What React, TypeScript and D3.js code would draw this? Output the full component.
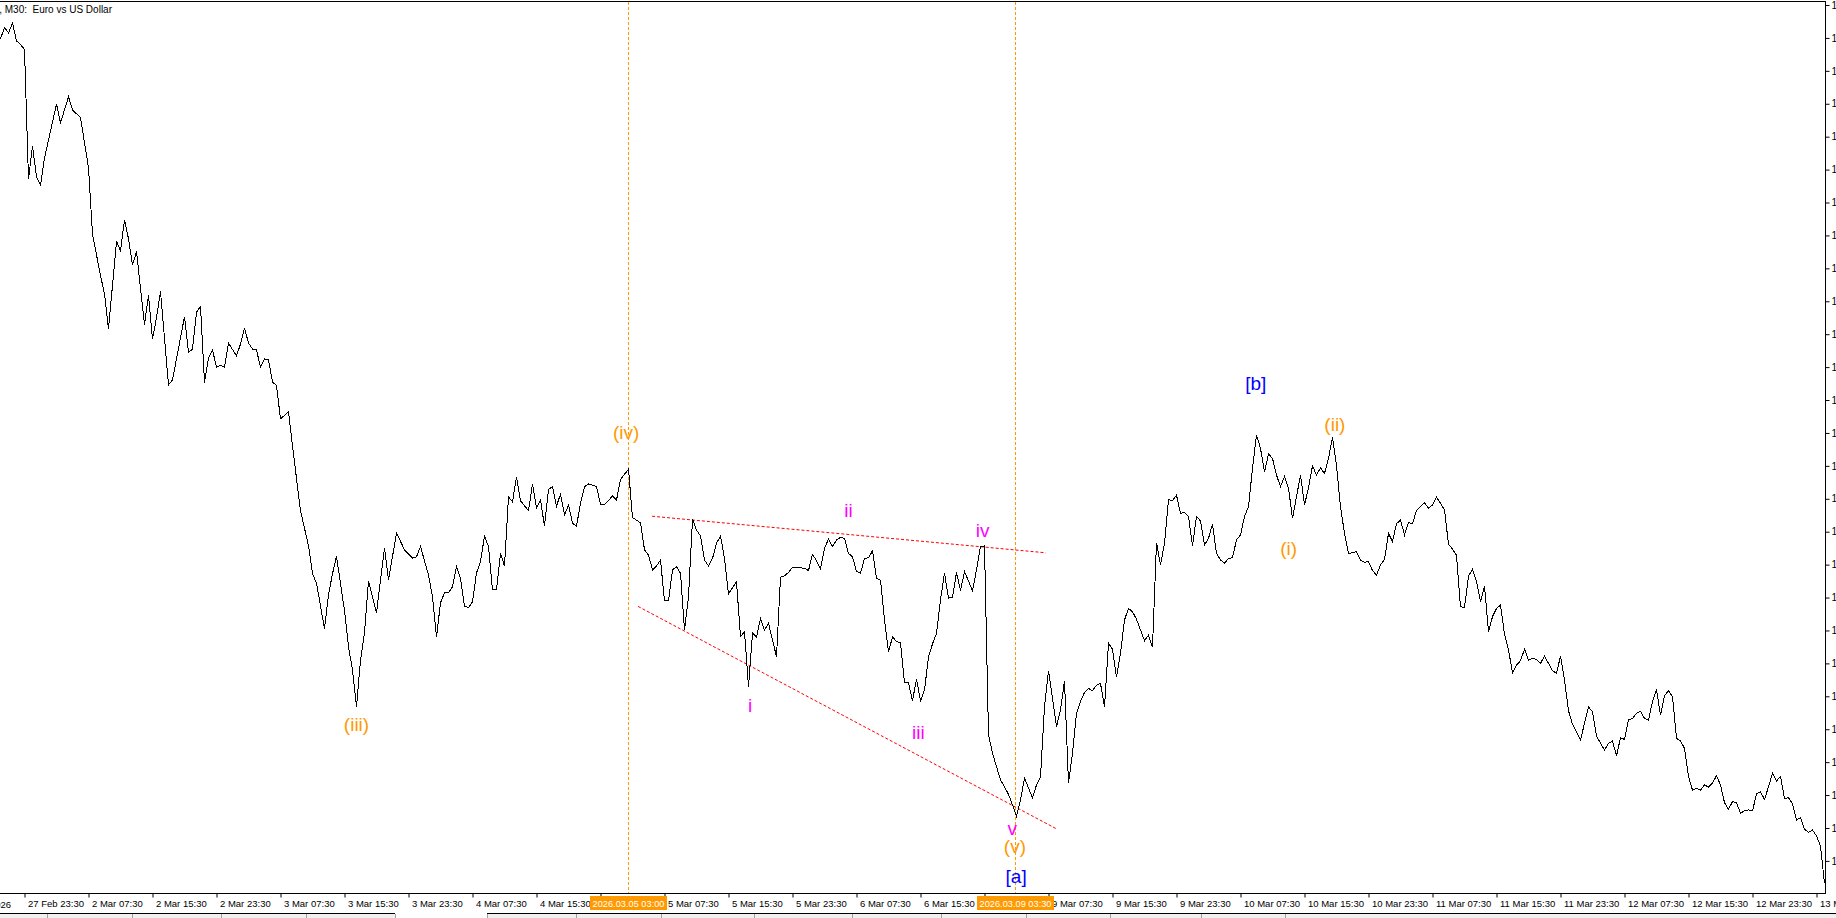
import React, { useEffect, useRef } from "react";
import * as d3 from "d3";

type Bar = [number, number];

const WIDTH = 1836;
const HEIGHT = 918;
const AXIS_X = 1825.5;
const AXIS_Y = 893.5;

// M30 closes, [bar number, price]; bar 0 = 27 Feb 23:30
const feb27: Bar[] = [[-6, 1.17897], [-5, 1.17932], [-4, 1.17915], [-3, 1.17945], [-2, 1.17891], [-1, 1.1788], [0, 1.17865]];
const mar02: Bar[] = [[1, 1.17471], [2, 1.17572], [3, 1.17478], [4, 1.17453], [5, 1.17535], [8, 1.17699], [9, 1.17642], [11, 1.17721], [12, 1.17681], [14, 1.17658], [16, 1.17506], [17, 1.17304], [19, 1.17178], [20, 1.17122], [21, 1.17016], [23, 1.17282], [24, 1.17254], [25, 1.17347], [26, 1.1729], [27, 1.1721], [28, 1.17251], [30, 1.17029], [31, 1.17119], [32, 1.16985], [33, 1.1705], [34, 1.1713], [36, 1.16846], [37, 1.16861], [40, 1.17053], [41, 1.16944], [42, 1.16955], [43, 1.17067], [44, 1.17084], [45, 1.16853], [46, 1.16928], [47, 1.16952], [48, 1.169]];
const mar03: Bar[] = [[49, 1.16906], [50, 1.169], [51, 1.16973], [53, 1.16934], [54, 1.1697], [55, 1.17019], [56, 1.16973], [57, 1.16955], [58, 1.16952], [59, 1.169], [60, 1.16925], [61, 1.16922], [62, 1.16855], [63, 1.16844], [64, 1.16743], [65, 1.16753], [66, 1.16764], [67, 1.1666], [69, 1.16464], [71, 1.16357], [72, 1.16272], [73, 1.16244], [75, 1.16105], [76, 1.16209], [77, 1.16272], [78, 1.16325], [80, 1.1616], [81, 1.1605], [82, 1.1598], [83, 1.15868], [84, 1.1601], [85, 1.16092], [86, 1.16251], [88, 1.16154], [90, 1.16351], [91, 1.16253], [93, 1.16396], [95, 1.16345]];
const mar04: Bar[] = [[97, 1.1632], [98, 1.16324], [99, 1.16355], [101, 1.16268], [102, 1.16203], [103, 1.1608], [104, 1.16184], [105, 1.16214], [106, 1.16214], [107, 1.16233], [108, 1.16294], [109, 1.16259], [110, 1.16174], [111, 1.16169], [112, 1.16187], [113, 1.16275], [114, 1.16309], [115, 1.16387], [116, 1.16355], [117, 1.16223], [118, 1.16223], [119, 1.16334], [120, 1.16296], [121, 1.16506], [122, 1.16491], [123, 1.16567], [124, 1.16494], [126, 1.16464], [127, 1.16544], [128, 1.16471], [129, 1.16496], [130, 1.16417], [131, 1.16529], [132, 1.16537], [133, 1.16478], [134, 1.16514], [135, 1.16451], [136, 1.16481], [137, 1.16426], [138, 1.16417], [139, 1.16486], [140, 1.16537], [141, 1.16545], [143, 1.16537], [144, 1.16483]];
const mar05: Bar[] = [[145, 1.16483], [147, 1.16508], [148, 1.16496], [149, 1.16559], [151, 1.1659], [152, 1.16443], [154, 1.16427], [155, 1.16345], [156, 1.16329], [157, 1.16284], [158, 1.16296], [159, 1.16314], [160, 1.1619], [161, 1.1619], [162, 1.16284], [163, 1.16294], [164, 1.16274], [165, 1.16101], [166, 1.16203], [167, 1.16438], [168, 1.16405], [169, 1.16387], [170, 1.16314], [171, 1.16296], [172, 1.16319], [173, 1.16365], [174, 1.16387], [175, 1.16319], [176, 1.16211], [178, 1.16248], [179, 1.16081], [180, 1.16096], [181, 1.15929], [182, 1.16092], [183, 1.1608], [184, 1.16137], [185, 1.16101], [186, 1.16122], [188, 1.1602], [189, 1.16262], [190, 1.16266], [191, 1.16276], [192, 1.16292]];
const mar06: Bar[] = [[193, 1.16291], [195, 1.16289], [196, 1.16282], [197, 1.16331], [198, 1.16312], [199, 1.16287], [200, 1.1635], [201, 1.16377], [202, 1.16355], [203, 1.16375], [204, 1.16383], [205, 1.1638], [206, 1.16334], [207, 1.16324], [208, 1.16279], [209, 1.16274], [210, 1.16319], [211, 1.16321], [212, 1.16342], [213, 1.16258], [214, 1.16253], [215, 1.16132], [216, 1.16034], [217, 1.16081], [218, 1.16066], [219, 1.16063], [220, 1.15941], [221, 1.15941], [222, 1.15887], [223, 1.15952], [224, 1.15886], [225, 1.15919], [226, 1.1602], [227, 1.16059], [228, 1.16091], [229, 1.16193], [230, 1.16274], [231, 1.16198], [232, 1.16201], [233, 1.16276], [234, 1.16221], [235, 1.16279], [237, 1.16221], [238, 1.16284], [239, 1.16355], [240, 1.16357]];
const mar09: Bar[] = [[241, 1.15783], [242, 1.15727], [244, 1.15646], [245, 1.15625], [246, 1.15602], [247, 1.1557], [248, 1.15536], [249, 1.15585], [250, 1.15651], [252, 1.15592], [253, 1.15631], [254, 1.15656], [255, 1.15868], [256, 1.15978], [258, 1.15808], [259, 1.15858], [260, 1.15947], [261, 1.15636], [262, 1.15727], [263, 1.15848], [264, 1.15884], [265, 1.15912], [266, 1.15924], [267, 1.15917], [268, 1.15934], [269, 1.15939], [270, 1.15868], [271, 1.16061], [272, 1.16043], [273, 1.15958], [274, 1.16031], [275, 1.16132], [276, 1.16167], [277, 1.16157], [278, 1.16134], [280, 1.16069], [281, 1.16086], [282, 1.16049], [283, 1.16367], [284, 1.16299], [285, 1.16365], [286, 1.16498], [287, 1.16494], [288, 1.16511]];
const mar10: Bar[] = [[289, 1.16456], [290, 1.16459], [291, 1.16446], [292, 1.16357], [293, 1.16446], [294, 1.16433], [295, 1.1636], [296, 1.1638], [297, 1.16423], [298, 1.16334], [299, 1.16314], [300, 1.16304], [301, 1.16319], [302, 1.16321], [303, 1.16375], [304, 1.1639], [305, 1.16446], [306, 1.16476], [307, 1.16593], [308, 1.16694], [309, 1.16653], [310, 1.16582], [311, 1.16636], [312, 1.16623], [313, 1.16572], [314, 1.16537], [315, 1.16567], [316, 1.16532], [317, 1.16441], [318, 1.16506], [319, 1.16572], [320, 1.16481], [321, 1.16534], [322, 1.166], [323, 1.16572], [324, 1.16594], [325, 1.16577], [326, 1.16623], [327, 1.16687], [328, 1.166], [329, 1.16476], [330, 1.16395], [331, 1.16334], [333, 1.16339], [334, 1.16314], [335, 1.16307], [336, 1.16309]];
const mar11: Bar[] = [[337, 1.16282], [338, 1.16268], [339, 1.16299], [340, 1.16316], [341, 1.16395], [342, 1.1637], [343, 1.16424], [344, 1.16436], [345, 1.1639], [346, 1.16427], [347, 1.16425], [348, 1.16464], [350, 1.16488], [351, 1.16471], [352, 1.16481], [353, 1.16505], [354, 1.16486], [355, 1.16466], [356, 1.16362], [357, 1.16347], [358, 1.16329], [359, 1.16172], [360, 1.1617], [361, 1.16265], [362, 1.16286], [363, 1.16248], [364, 1.16187], [365, 1.16235], [366, 1.16096], [367, 1.16142], [368, 1.16167], [369, 1.16177], [370, 1.16089], [371, 1.16041], [372, 1.15972], [373, 1.15995], [374, 1.16008], [375, 1.16043], [376, 1.1601], [377, 1.16015], [378, 1.16012], [379, 1.16], [380, 1.16022], [381, 1.16], [382, 1.15978], [383, 1.1597], [384, 1.16022]];
const mar12: Bar[] = [[385, 1.1595], [386, 1.15856], [387, 1.15815], [388, 1.15793], [389, 1.15767], [390, 1.15818], [391, 1.15868], [392, 1.15853], [393, 1.15779], [395, 1.15737], [396, 1.15757], [397, 1.15764], [398, 1.15719], [399, 1.15774], [400, 1.15769], [401, 1.15828], [402, 1.15833], [403, 1.15848], [404, 1.15855], [405, 1.15833], [406, 1.15828], [407, 1.15884], [408, 1.15921], [409, 1.15843], [410, 1.15901], [411, 1.15917], [412, 1.15899], [413, 1.15772], [414, 1.15764], [415, 1.15742], [416, 1.15656], [417, 1.15615], [418, 1.15621], [419, 1.15615], [420, 1.15631], [421, 1.15624], [422, 1.15636], [423, 1.15659], [424, 1.15631], [425, 1.15577], [426, 1.15557], [427, 1.1558], [428, 1.15577], [429, 1.15545], [430, 1.15552], [431, 1.15555], [432, 1.15552]];
const mar13: Bar[] = [[433, 1.15603], [434, 1.1561], [435, 1.15587], [436, 1.15625], [437, 1.15666], [438, 1.15643], [439, 1.15656], [440, 1.1559], [441, 1.15592], [442, 1.15573], [443, 1.15524], [444, 1.15532], [445, 1.15496], [446, 1.15487], [447, 1.15494], [448, 1.15476], [449, 1.15445], [450, 1.15332]];

// one label every 16 bars (8 hours)
const timeLabels = [
  "27 Feb 23:30", "2 Mar 07:30", "2 Mar 15:30", "2 Mar 23:30", "3 Mar 07:30", "3 Mar 15:30", "3 Mar 23:30",
  "4 Mar 07:30", "4 Mar 15:30", "4 Mar 23:30", "5 Mar 07:30", "5 Mar 15:30", "5 Mar 23:30", "6 Mar 07:30",
  "6 Mar 15:30", "6 Mar 23:30", "9 Mar 07:30", "9 Mar 15:30", "9 Mar 23:30", "10 Mar 07:30", "10 Mar 15:30",
  "10 Mar 23:30", "11 Mar 07:30", "11 Mar 15:30", "11 Mar 23:30", "12 Mar 07:30", "12 Mar 15:30",
  "12 Mar 23:30", "13 Mar 07:30",
];
const firstDate = "27 Feb 2026";

const priceLabels = [
  "1.1800", "1.1790", "1.1780", "1.1770", "1.1760", "1.1750", "1.1740", "1.1730", "1.1720",
  "1.1710", "1.1700", "1.1690", "1.1680", "1.1670", "1.1660", "1.1650", "1.1640", "1.1630",
  "1.1620", "1.1610", "1.1600", "1.1590", "1.1580", "1.1570", "1.1560", "1.1550", "1.1540",
];

const vLines = [
  { bar: 151, label: "2026.03.05 03:00" },
  { bar: 248, label: "2026.03.09 03:30" },
];

// wedge boundaries, [bar, price] ends
const upperLine: Bar[] = [[156.9, 1.16447], [255.3, 1.16336]];
const lowerLine: Bar[] = [[153.4, 1.16173], [257.9, 1.15498]];

const waveLabels = [
  { text: "(iii)", bar: 83.0, price: 1.15795, degree: "minor" },
  { text: "(iv)", bar: 150.4, price: 1.16682, degree: "minor" },
  { text: "i", bar: 181.4, price: 1.15852, degree: "minute" },
  { text: "ii", bar: 206.0, price: 1.16445, degree: "minute" },
  { text: "iii", bar: 223.45, price: 1.1577, degree: "minute" },
  { text: "iv", bar: 239.55, price: 1.16384, degree: "minute" },
  { text: "v", bar: 246.95, price: 1.15479, degree: "minute" },
  { text: "(v)", bar: 247.6, price: 1.15425, degree: "minor" },
  { text: "[a]", bar: 247.9, price: 1.15334, degree: "intermediate" },
  { text: "[b]", bar: 307.8, price: 1.16829, degree: "intermediate" },
  { text: "(i)", bar: 316.05, price: 1.16329, degree: "minor" },
  { text: "(ii)", bar: 327.6, price: 1.16706, degree: "minor" },
];

const degreeColor: Record<string, string> = {
  minor: "#ff9900",
  minute: "#ff00ff",
  intermediate: "#0000ff",
};

const FONT = "'Liberation Sans', Arial, sans-serif";
const SMALL = 9.5;

const App: React.FC = () => {
  const ref = useRef<SVGSVGElement>(null);

  useEffect(() => {
    if (!ref.current) return;
    const svg = d3.select(ref.current);
    svg.selectAll("*").remove();

    const series = [...feb27, ...mar02, ...mar03, ...mar04, ...mar05, ...mar06, ...mar09, ...mar10, ...mar11, ...mar12, ...mar13];

    const x = d3.scaleLinear().domain([-6, 450]).range([0.5, 1824.5]);
    const y = d3.scaleLinear().domain([1.154, 1.18]).range([860.9, 5]);

    svg.append("rect").attr("width", WIDTH).attr("height", HEIGHT).attr("fill", "#fff");

    // frame
    svg.append("line").attr("x1", 0).attr("x2", AXIS_X).attr("y1", 1.5).attr("y2", 1.5).attr("stroke", "#000");
    svg.append("line").attr("x1", AXIS_X).attr("x2", AXIS_X).attr("y1", 1).attr("y2", AXIS_Y).attr("stroke", "#000");
    svg.append("line").attr("x1", 0).attr("x2", AXIS_X + 0.5).attr("y1", AXIS_Y).attr("y2", AXIS_Y).attr("stroke", "#000");

    // title
    svg.append("text")
      .attr("x", 112).attr("y", 13)
      .attr("text-anchor", "end")
      .attr("font-family", FONT).attr("font-size", 10)
      .style("white-space", "pre")
      .text("EURUSD, M30:  Euro vs US Dollar");

    // price axis
    const yAxis = d3.axisRight(y)
      .tickValues(priceLabels.map(Number))
      .tickFormat((_, i) => priceLabels[i])
      .tickSize(4).tickSizeOuter(0).tickPadding(2);
    svg.append("g")
      .attr("transform", `translate(${AXIS_X},0)`)
      .call(yAxis)
      .call((g) => g.select(".domain").remove())
      .call((g) => g.selectAll("text").attr("font-family", FONT).attr("font-size", 10).attr("fill", "#000"));

    // time axis
    const xAxis = d3.axisBottom(x)
      .tickValues(timeLabels.map((_, i) => i * 16))
      .tickFormat((_, i) => timeLabels[i])
      .tickSize(4).tickSizeOuter(0).tickPadding(3);
    svg.append("g")
      .attr("transform", `translate(0,${AXIS_Y})`)
      .call(xAxis)
      .call((g) => g.select(".domain").remove())
      .call((g) => g.selectAll("text").attr("text-anchor", "start").attr("x", 3)
        .attr("font-family", FONT).attr("font-size", SMALL).attr("fill", "#000"));
    svg.append("text")
      .attr("x", x(-6) + 10.5).attr("y", AXIS_Y + 14)
      .attr("text-anchor", "end")
      .attr("font-family", FONT).attr("font-size", SMALL)
      .text(firstDate);

    // vertical markers
    vLines.forEach((v) => {
      const vx = Math.round(x(v.bar)) - 0.5;
      svg.append("line")
        .attr("x1", vx).attr("x2", vx).attr("y1", 2).attr("y2", AXIS_Y - 0.5)
        .attr("stroke", "#ff9900").attr("stroke-dasharray", "3,2");
      svg.append("rect")
        .attr("x", vx - 38.5).attr("y", AXIS_Y + 2.5).attr("width", 77).attr("height", 14)
        .attr("fill", "#ff9900");
      svg.append("text")
        .attr("x", vx).attr("y", AXIS_Y + 13.5)
        .attr("text-anchor", "middle")
        .attr("font-family", FONT).attr("font-size", SMALL).attr("fill", "#fff")
        .attr("textLength", 72).attr("lengthAdjust", "spacingAndGlyphs")
        .text(v.label);
    });

    // wedge lines
    const seg = d3.line<Bar>().x((d) => x(d[0])).y((d) => y(d[1]));
    [upperLine, lowerLine].forEach((l) => {
      svg.append("path").attr("d", seg(l)).attr("fill", "none")
        .attr("stroke", "#ff0000").attr("stroke-width", 1).attr("stroke-dasharray", "3,2");
    });

    // price line
    svg.append("path")
      .attr("d", seg(series))
      .attr("fill", "none")
      .attr("stroke", "#000")
      .attr("stroke-width", 1)
      .attr("shape-rendering", "crispEdges");

    // wave labels
    svg.selectAll(".wave")
      .data(waveLabels)
      .enter()
      .append("text")
      .classed("wave", true)
      .attr("x", (d) => x(d.bar))
      .attr("y", (d) => y(d.price))
      .attr("text-anchor", "middle")
      .attr("font-family", FONT)
      .attr("font-size", 19)
      .attr("fill", (d) => degreeColor[d.degree])
      .text((d) => d.text);

    // tab strip at the bottom
    svg.append("rect").attr("x", 0).attr("y", 914).attr("width", WIDTH).attr("height", 4).attr("fill", "#f0f0f0");
    svg.append("rect").attr("x", 395).attr("y", 913).attr("width", 92).attr("height", 5).attr("fill", "#fff");
    svg.append("line").attr("x1", 0).attr("x2", 395).attr("y1", 913.5).attr("y2", 913.5).attr("stroke", "#000");
    svg.append("line").attr("x1", 487).attr("x2", WIDTH).attr("y1", 913.5).attr("y2", 913.5).attr("stroke", "#000");
    [47, 132, 221, 306, 395, 487, 576, 661, 754, 852, 941, 1026, 1110, 1201, 1285].forEach((tx) => {
      svg.append("line").attr("x1", tx + 0.5).attr("x2", tx + 0.5).attr("y1", 914).attr("y2", 918).attr("stroke", "#a0a0a0");
    });
  }, []);

  return (
    <svg
      ref={ref}
      width={WIDTH}
      height={HEIGHT}
      style={{ position: "fixed", left: 0, top: 0, display: "block" }}
    />
  );
};

export default App;
